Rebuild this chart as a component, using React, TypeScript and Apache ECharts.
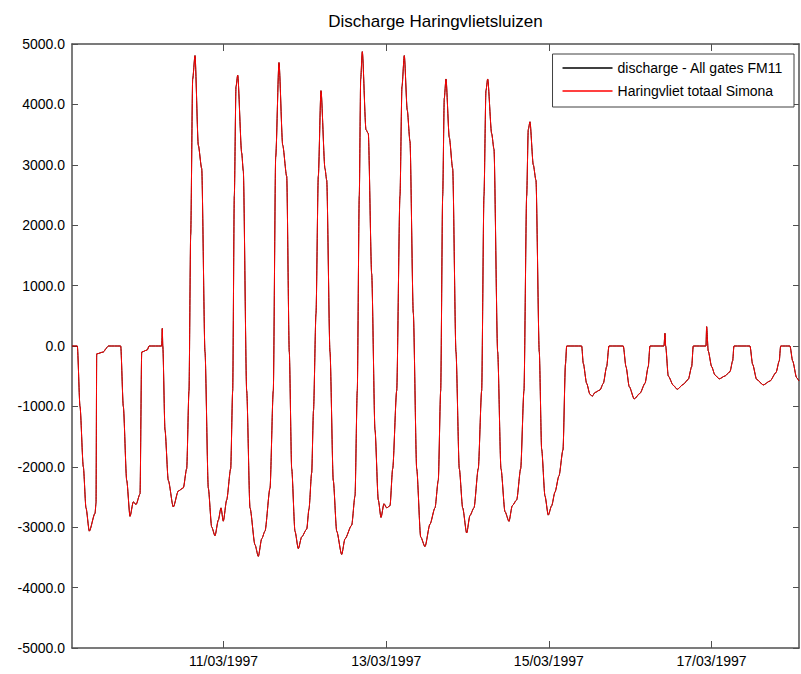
import React, { useEffect, useRef } from "react";
import * as echarts from "echarts";

// Time in hours since 09/03/1997 00:00
const hours = [3.3, 4.87, 5.66, 6.64, 7.43, 8.41, 10.09, 10.39, 10.59, 12.54, 13.54, 14.01, 17.67, 18.44, 19.44, 20.42, 21.39, 22.19, 23.37, 23.87, 25.52, 26.02, 29.77, 29.94, 30.09, 30.74, 31.71, 33.19, 34.67, 36.14, 37.14, 37.82, 38.32, 38.91, 39.59, 40.57, 41.57, 42.54, 43.52, 44.52, 45.49, 46.47, 47.26, 47.94, 48.94, 50.12, 50.71, 51.19, 51.69, 52.19, 53.37, 53.84, 54.84, 55.82, 57.29, 58.27, 59.27, 60.24, 61.72, 62.69, 63.4, 64.37, 65.47, 66.65, 67.41, 68.12, 69.09, 70.07, 71.07, 72.55, 73.22, 74.02, 74.55, 75.29, 75.97, 76.76, 77.94, 78.45, 79.42, 80.39, 81.4, 82.87, 83.85, 85.82, 86.8, 87.47, 88.06, 88.48, 88.95, 90.04, 90.72, 91.72, 92.7, 93.67, 94.47, 95.35, 96.15, 97.12, 97.92, 99.1, 100.07, 100.66, 101.34, 102.22, 103.02, 104.0, 105.0, 106.18, 107.45, 108.92, 110.4, 111.37, 112.08, 112.67, 113.14, 113.64, 114.62, 115.62, 116.59, 117.57, 118.57, 119.75, 120.72, 121.9, 123.17, 124.17, 124.85, 125.44, 125.94, 127.12, 127.8, 128.89, 129.87, 131.05, 132.23, 133.2, 134.5, 135.68, 136.65, 137.45, 137.92, 138.42, 139.4, 140.19, 141.17, 141.87, 142.85, 143.82, 144.82, 145.8, 146.98, 148.16, 148.9, 149.25, 153.68, 154.15, 155.15, 156.12, 156.8, 157.6, 159.08, 160.05, 161.05, 161.73, 165.95, 166.75, 167.72, 169.19, 170.88, 172.35, 173.32, 173.83, 177.96, 178.25, 178.46, 179.23, 180.7, 181.88, 183.65, 185.13, 186.13, 186.6, 190.35, 190.55, 191.02, 192.03, 193.0, 194.27, 195.95, 197.43, 198.22, 198.61, 203.33, 204.12, 205.3, 207.25, 209.23, 211.0, 211.97, 212.38, 215.13, 215.93, 217.1, 217.78];

// Haringvliet totaal Simona (m3/s)
const simonaDischarge = [0, 0, -1000, -2000, -2680, -3065, -2770, -2600, -130, -100, -30, 0, 0, -1000, -2225, -2820, -2580, -2625, -2450, -100, -65, 0, 0, 290, 0, -1390, -2225, -2665, -2400, -2350, -2030, -740, 1840, 4420, 4808, 3324, 2937, -96, -2354, -2998, -3141, -2883, -2680, -2900, -2548, -2031, -740, 2485, 4293, 4485, 3195, 2900, -740, -2680, -3290, -3483, -3193, -3065, -2354, -740, 3129, 4692, 3324, 2808, -96, -2031, -3065, -3355, -3161, -3032, -2700, -2100, -1071, 535, 2808, 4227, 2937, 2744, -96, -2225, -3065, -3451, -3193, -2967, -2483, -740, 2485, 4421, 4873, 3582, 3517, 1195, -1390, -2548, -2838, -2612, -2680, -2645, -2031, -740, 2485, 4293, 4808, 3904, 3388, 548, -2031, -3161, -3322, -2950, -2680, -2225, -740, 2485, 4098, 4421, 3453, 2937, -96, -2031, -2680, -3096, -2806, -2680, -2031, -740, 2485, 4227, 4421, 3517, 3259, -96, -2031, -2741, -2903, -2645, -2548, -2031, -740, 2485, 3582, 3712, 3001, 2744, -96, -1709, -2483, -2800, -2645, -2419, -2150, -1722, -300, 0, 0, -287, -620, -800, -832, -770, -728, -620, -342, 0, 0, -342, -673, -877, -783, -620, -342, 0, 0, 210, 0, -497, -650, -717, -635, -552, -342, 0, 0, 320, -83, -342, -480, -544, -497, -425, -248, 0, 0, -304, -552, -645, -580, -442, -248, 0, 0, -248, -525, -580];

// discharge - All gates FM11 (lies under the red curve everywhere)
const fm11Discharge = [0, 0, -1000, -2000, -2680, -3065, -2770, -2600, -130, -100, -30, 0, 0, -1000, -2225, -2820, -2580, -2625, -2450, -100, -65, 0, 0, 290, 0, -1390, -2225, -2665, -2400, -2350, -2030, -740, 1840, 4420, 4808, 3324, 2937, -96, -2354, -2998, -3141, -2883, -2680, -2900, -2548, -2031, -740, 2485, 4293, 4485, 3195, 2900, -740, -2680, -3290, -3483, -3193, -3065, -2354, -740, 3129, 4692, 3324, 2808, -96, -2031, -3065, -3355, -3161, -3032, -2700, -2100, -1071, 535, 2808, 4227, 2937, 2744, -96, -2225, -3065, -3451, -3193, -2967, -2483, -740, 2485, 4421, 4873, 3582, 3517, 1195, -1390, -2548, -2838, -2612, -2680, -2645, -2031, -740, 2485, 4293, 4808, 3904, 3388, 548, -2031, -3161, -3322, -2950, -2680, -2225, -740, 2485, 4098, 4421, 3453, 2937, -96, -2031, -2680, -3096, -2806, -2680, -2031, -740, 2485, 4227, 4421, 3517, 3259, -96, -2031, -2741, -2903, -2645, -2548, -2031, -740, 2485, 3582, 3712, 3001, 2744, -96, -1709, -2483, -2800, -2645, -2419, -2150, -1722, -300, 0, 0, -287, -620, -800, -832, -770, -728, -620, -342, 0, 0, -342, -673, -877, -783, -620, -342, 0, 0, 210, 0, -497, -650, -717, -635, -552, -342, 0, 0, 320, -83, -342, -480, -544, -497, -425, -248, 0, 0, -304, -552, -645, -580, -442, -248, 0, 0, -248, -525, -580];

const tickHours = [48, 96, 144, 192];
const tickLabels = ["11/03/1997", "13/03/1997", "15/03/1997", "17/03/1997"];

const seriesNames = ["discharge - All gates FM11", "Haringvliet totaal Simona"];
const titleText = "Discharge Haringvlietsluizen";

const FONT = "'Liberation Sans', Arial, sans-serif";
const AXIS_COLOR = "#505050";

export default function App() {
  const ref = useRef<HTMLDivElement>(null);

  useEffect(() => {
    document.body.style.margin = "0";
    if (!ref.current) return;
    const chart = echarts.init(ref.current, null, { renderer: "svg" });

    const pairs = (vals: number[]) => hours.map((h, i) => [h, vals[i]]);
    const labelFor = (v: number) => {
      const idx = tickHours.findIndex((t) => Math.abs(t - v) < 1e-6);
      return idx >= 0 ? tickLabels[idx] : "";
    };

    const xCommon = {
      type: "value" as const,
      min: 3.3,
      max: 217.8,
      axisLine: { show: true, onZero: false, lineStyle: { color: AXIS_COLOR, width: 1.5 } },
      axisTick: { show: true, inside: true, length: 7, customValues: tickHours, lineStyle: { color: AXIS_COLOR, width: 1 } },
      splitLine: { show: false },
    };
    const yCommon = {
      type: "value" as const,
      min: -5000,
      max: 5000,
      interval: 1000,
      axisLine: { show: true, onZero: false, lineStyle: { color: AXIS_COLOR, width: 1.5 } },
      axisTick: { show: true, inside: true, length: 6, lineStyle: { color: AXIS_COLOR, width: 1 } },
      splitLine: { show: false },
    };

    const lineSeries = (name: string, vals: number[], color: string) => ({
      name,
      type: "line",
      xAxisIndex: 0,
      yAxisIndex: 0,
      data: pairs(vals),
      showSymbol: false,
      symbol: "none",
      smooth: 0.25,
      smoothMonotone: "x",
      lineStyle: { color, width: 1 },
      itemStyle: { color },
    });

    chart.setOption({
      animation: false,
      backgroundColor: "#ffffff",
      textStyle: { fontFamily: FONT },
      grid: { left: 72, right: 2, top: 44, bottom: 26, containLabel: false },
      graphic: [
        {
          type: "text",
          x: 435.5,
          y: 21,
          style: {
            text: titleText,
            fontSize: 17,
            fontFamily: FONT,
            fill: "#000",
            textAlign: "center",
            textVerticalAlign: "middle",
          },
        },
      ],
      legend: {
        data: seriesNames,
        orient: "vertical",
        right: 7,
        top: 54,
        icon: "rect",
        itemWidth: 50,
        itemHeight: 1.5,
        itemGap: 7,
        padding: [6, 11, 8, 10],
        borderColor: "#404040",
        borderWidth: 1,
        borderRadius: 0,
        backgroundColor: "#ffffff",
        selectedMode: false,
        textStyle: { fontSize: 14, lineHeight: 16, color: "#000", fontFamily: FONT },
      },
      xAxis: [
        {
          ...xCommon,
          position: "bottom",
          axisLabel: {
            show: true,
            customValues: tickHours,
            formatter: (v: number) => labelFor(v),
            fontSize: 14,
            color: "#000",
            fontFamily: FONT,
            margin: 6,
          },
        },
        {
          ...xCommon,
          position: "top",
          axisLabel: { show: false },
        },
      ],
      yAxis: [
        {
          ...yCommon,
          position: "left",
          axisLabel: {
            show: true,
            formatter: (v: number) => v.toFixed(1),
            fontSize: 14,
            color: "#000",
            fontFamily: FONT,
            margin: 7,
          },
        },
        {
          ...yCommon,
          position: "right",
          axisLabel: { show: false },
        },
      ],
      series: [
        lineSeries(seriesNames[0], fm11Discharge, "#000000"),
        lineSeries(seriesNames[1], simonaDischarge, "#ff0000"),
      ],
    });

    return () => chart.dispose();
  }, []);

  return <div ref={ref} style={{ width: 801, height: 674 }} />;
}
